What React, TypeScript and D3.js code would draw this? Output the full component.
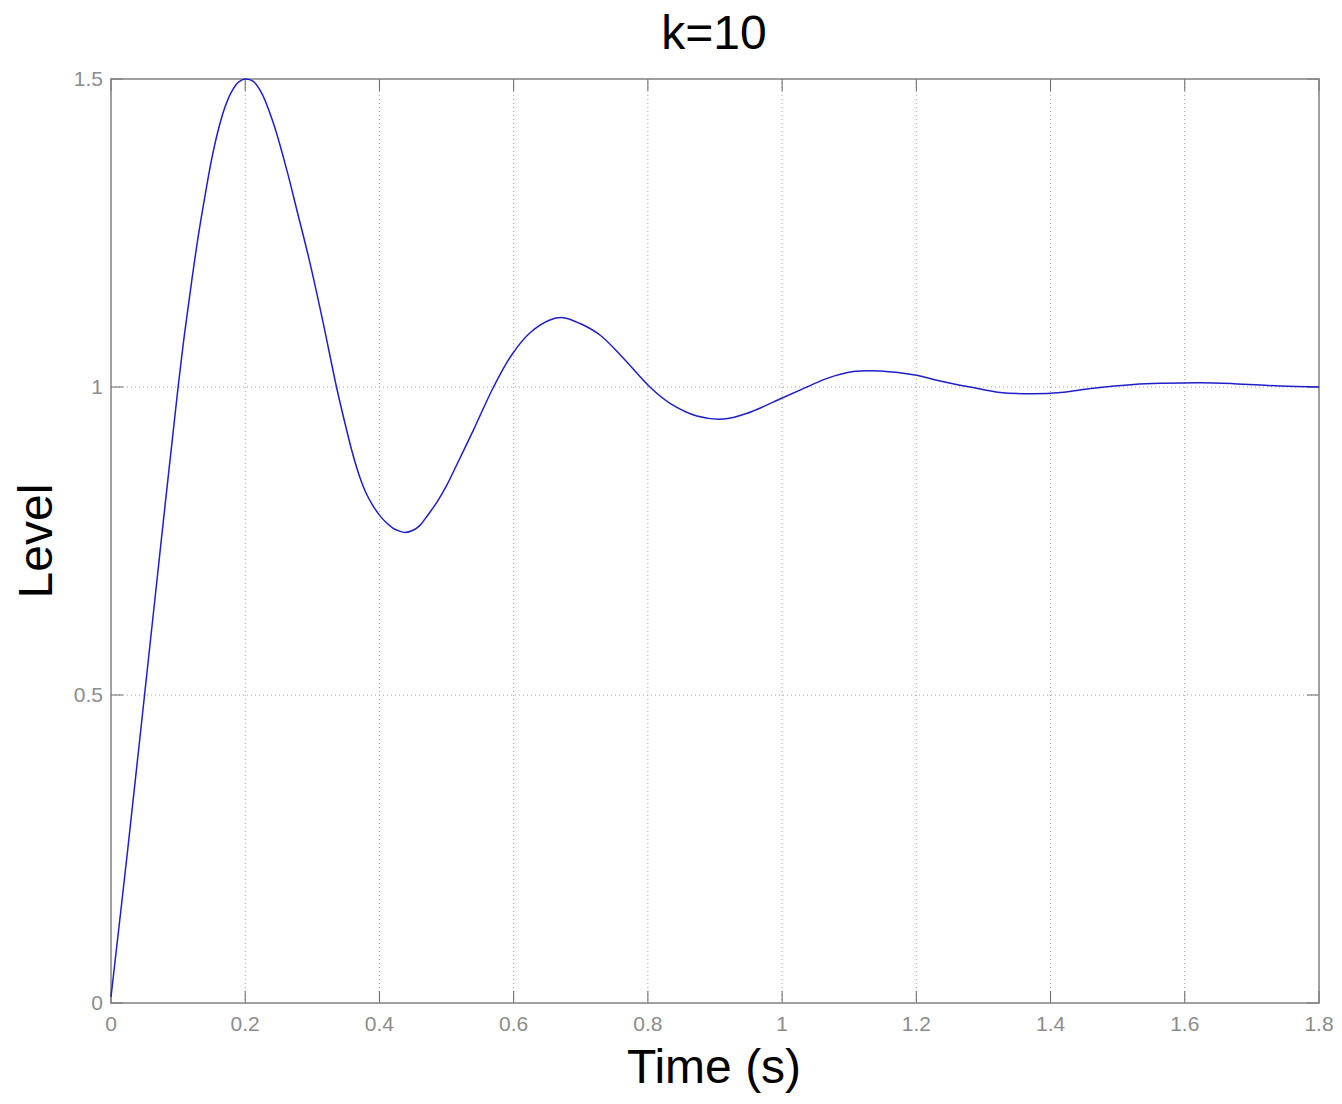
import React from "react";
import * as d3 from "d3";

const timeValues = [
  0, 0.025, 0.05, 0.075, 0.1, 0.11, 0.12, 0.13, 0.14, 0.15, 0.16, 0.17, 0.18, 0.19, 0.2,
  0.212, 0.2245, 0.242, 0.262, 0.277, 0.2966, 0.3164, 0.336, 0.35, 0.36, 0.37, 0.38,
  0.39, 0.4, 0.41, 0.42, 0.43, 0.438, 0.45, 0.46, 0.47, 0.485, 0.5, 0.51, 0.54, 0.57,
  0.597, 0.6244, 0.654, 0.674, 0.699, 0.729, 0.7635, 0.803, 0.833, 0.873, 0.9125, 0.947,
  1.001, 1.037, 1.067, 1.106, 1.146, 1.2007, 1.2305, 1.265, 1.28, 1.325, 1.375, 1.415,
  1.464, 1.524, 1.568, 1.623, 1.673, 1.742, 1.8,
];
const levelValues = [
  0.01, 0.25, 0.5, 0.752, 1.0, 1.09, 1.17, 1.245, 1.31, 1.37, 1.418, 1.455, 1.48, 1.495, 1.5,
  1.496, 1.477, 1.428, 1.352, 1.287, 1.2008, 1.103, 1.0, 0.935, 0.892, 0.856, 0.828,
  0.808, 0.792, 0.78, 0.771, 0.766, 0.764, 0.7675, 0.775, 0.789, 0.812, 0.84, 0.862, 0.93,
  1.0, 1.052, 1.088, 1.1088, 1.1125, 1.103, 1.084, 1.0466, 1.0, 0.9735, 0.953, 0.948, 0.957,
  0.9826, 1.0, 1.014, 1.025, 1.026, 1.019, 1.011, 1.003, 1.0, 0.991, 0.989, 0.991,
  0.998, 1.004, 1.006, 1.007, 1.0054, 1.0016, 1.0,
];
const xTicks = [0, 0.2, 0.4, 0.6, 0.8, 1, 1.2, 1.4, 1.6, 1.8];
const yTicks = [0, 0.5, 1, 1.5];
const titleText = "k=10";
const xLabel = "Time (s)";
const yLabel = "Level";

export default function App() {
  const W = 1342;
  const H = 1104;
  const left = 111;
  const right = 1319;
  const top = 79;
  const bottom = 1003;
  const x = d3.scaleLinear().domain([0, 1.8]).range([left, right]);
  const y = d3.scaleLinear().domain([0, 1.5]).range([bottom, top]);
  const pts: [number, number][] = timeValues.map((t, i) => [t, levelValues[i]]);
  const line = d3
    .line<[number, number]>()
    .x((d) => x(d[0]))
    .y((d) => y(d[1]))
    .curve(d3.curveCatmullRom.alpha(0.5));
  const font = "Liberation Sans, Arial, sans-serif";
  const tickLen = 12;
  return (
    <svg
      width={W}
      height={H}
      style={{ position: "absolute", left: 0, top: 0, background: "#fff" }}
      fontFamily={font}
    >
      <rect x={0} y={0} width={W} height={H} fill="#fff" />
      {xTicks.slice(1, -1).map((t) => (
        <line
          key={"gx" + t}
          x1={x(t)}
          x2={x(t)}
          y1={top}
          y2={bottom}
          stroke="#a0a0a0"
          strokeWidth={1}
          strokeDasharray="1,3"
        />
      ))}
      {yTicks.slice(1, -1).map((t) => (
        <line
          key={"gy" + t}
          x1={left}
          x2={right}
          y1={y(t)}
          y2={y(t)}
          stroke="#a0a0a0"
          strokeWidth={1}
          strokeDasharray="1,3"
        />
      ))}
      {xTicks.map((t) => (
        <g key={"tx" + t}>
          <line x1={x(t)} x2={x(t)} y1={bottom} y2={bottom - tickLen} stroke="#666" strokeWidth={1} />
          <line x1={x(t)} x2={x(t)} y1={top} y2={top + tickLen} stroke="#666" strokeWidth={1} />
          <text x={x(t)} y={1031} textAnchor="middle" fontSize={21} fill="#8c8c8c">
            {String(t)}
          </text>
        </g>
      ))}
      {yTicks.map((t) => (
        <g key={"ty" + t}>
          <line x1={left} x2={left + tickLen} y1={y(t)} y2={y(t)} stroke="#666" strokeWidth={1} />
          <line x1={right} x2={right - tickLen} y1={y(t)} y2={y(t)} stroke="#666" strokeWidth={1} />
          <text x={103} y={y(t) + 7} textAnchor="end" fontSize={21} fill="#8c8c8c">
            {String(t)}
          </text>
        </g>
      ))}
      <rect
        x={left}
        y={top}
        width={right - left}
        height={bottom - top}
        fill="none"
        stroke="#808080"
        strokeWidth={1.5}
      />
      <path d={line(pts) || ""} fill="none" stroke="#1f1fc8" strokeWidth={1.5} />
      <text x={714} y={49} textAnchor="middle" fontSize={48} fill="#000">
        {titleText}
      </text>
      <text x={714} y={1083} textAnchor="middle" fontSize={48} fill="#000">
        {xLabel}
      </text>
      <text
        x={0}
        y={0}
        transform={`translate(52, ${(top + bottom) / 2}) rotate(-90)`}
        textAnchor="middle"
        fontSize={48}
        fill="#000"
      >
        {yLabel}
      </text>
    </svg>
  );
}
